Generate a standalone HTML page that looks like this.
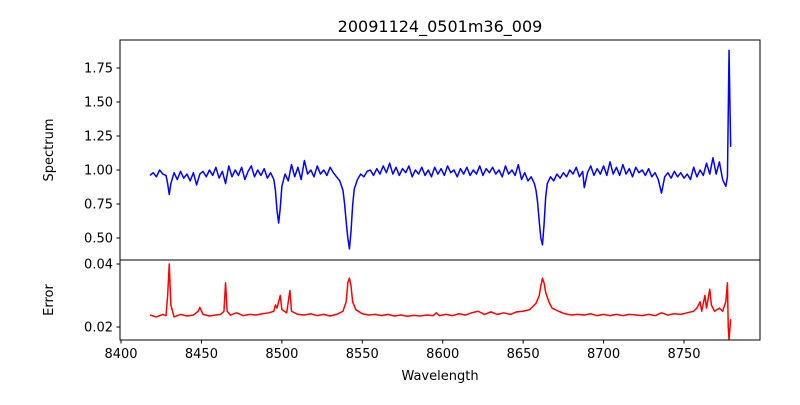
<!DOCTYPE html>
<html><head><meta charset="utf-8"><style>
html,body{margin:0;padding:0;background:#fff;}
svg text{font-family:"DejaVu Sans","Liberation Sans",sans-serif;}
</style></head><body>
<svg id="chart" width="800" height="400" xmlns="http://www.w3.org/2000/svg"></svg>
<script>
const specWave=[8418,8420,8422,8424,8426,8428,8429,8430,8431,8433,8435,8437,8439,8441,8443,8445,8447,8449,8451,8453,8455,8457,8459,8461,8463,8465,8467,8469,8471,8473,8475,8477,8479,8481,8483,8485,8487,8489,8491,8493,8495,8496,8497,8498,8499,8500,8502,8504,8506,8508,8510,8512,8514,8516,8518,8520,8522,8524,8526,8528,8530,8532,8534,8536,8538,8539,8540,8541,8542,8543,8544,8545,8547,8549,8551,8553,8555,8557,8559,8561,8563,8565,8567,8569,8571,8573,8575,8577,8579,8581,8583,8585,8587,8589,8591,8593,8595,8597,8599,8601,8603,8605,8607,8609,8611,8613,8615,8617,8619,8621,8623,8625,8627,8629,8631,8633,8635,8637,8639,8641,8643,8645,8647,8649,8651,8653,8655,8657,8658,8659,8660,8661,8662,8663,8664,8665,8667,8669,8671,8673,8675,8677,8679,8681,8683,8685,8687,8688,8690,8692,8694,8696,8698,8700,8702,8704,8706,8708,8710,8712,8714,8716,8718,8720,8722,8724,8726,8728,8730,8732,8734,8736,8738,8740,8742,8744,8746,8748,8750,8752,8754,8756,8758,8760,8762,8764,8766,8768,8770,8772,8774,8776,8777,8778,8779];
const specFlux=[0.96,0.98,0.95,1.00,0.97,0.96,0.90,0.82,0.90,0.98,0.93,0.99,0.94,0.97,0.92,0.98,0.89,0.97,0.99,0.95,1.00,0.96,1.02,0.94,0.99,0.90,1.03,0.95,1.00,0.96,1.02,0.93,0.99,1.03,0.95,1.00,0.96,1.01,0.94,0.98,0.93,0.85,0.70,0.61,0.72,0.88,0.97,0.92,1.04,0.95,1.02,0.93,1.07,0.97,1.00,0.95,1.03,0.97,1.00,0.96,1.02,0.98,0.95,0.92,0.85,0.75,0.62,0.50,0.42,0.55,0.74,0.86,0.93,0.97,0.95,0.99,1.00,0.96,1.01,0.97,1.03,0.98,1.05,0.97,1.02,0.96,1.01,0.98,1.03,0.95,1.00,0.97,1.02,0.96,1.00,0.95,1.02,0.97,1.01,0.96,1.03,0.98,1.00,0.95,1.01,0.97,1.02,0.96,1.00,0.97,1.03,0.96,1.01,0.98,1.02,0.97,1.00,0.95,1.03,0.97,1.00,0.96,1.04,0.93,0.98,0.92,0.95,0.90,0.85,0.76,0.62,0.50,0.45,0.60,0.80,0.90,0.95,0.92,0.97,0.94,0.98,0.95,1.00,0.97,1.02,0.95,0.99,0.87,0.98,1.03,0.96,1.01,0.97,1.03,0.96,1.06,0.97,1.02,0.96,1.04,0.97,1.01,0.95,1.02,0.98,1.00,0.96,1.01,0.95,0.98,0.93,0.83,0.95,0.98,0.94,0.99,0.95,0.98,0.94,0.97,0.93,1.02,0.95,1.00,0.96,1.05,0.97,1.09,0.97,1.06,0.93,0.88,0.95,1.88,1.17];
const errWave=[8418,8422,8426,8428,8429,8430,8431,8433,8437,8441,8445,8448,8449,8451,8455,8459,8462,8464,8465,8466,8468,8472,8476,8480,8484,8488,8492,8495,8496,8497,8499,8500,8503,8505,8506,8510,8514,8518,8522,8526,8530,8534,8538,8540,8541,8542,8543,8544,8546,8550,8554,8558,8562,8566,8570,8574,8578,8582,8586,8590,8594,8596,8598,8602,8606,8610,8614,8618,8622,8626,8630,8634,8638,8642,8646,8650,8654,8656,8658,8660,8661,8662,8663,8664,8666,8668,8672,8676,8680,8684,8688,8692,8696,8700,8704,8708,8712,8716,8720,8724,8728,8732,8736,8740,8744,8748,8752,8756,8758,8760,8761,8763,8764,8766,8767,8769,8772,8774,8776,8777,8777.5,8778,8779];
const errVal=[0.0238,0.0232,0.0240,0.0236,0.030,0.0400,0.027,0.0232,0.0240,0.0235,0.0238,0.0250,0.0262,0.0240,0.0235,0.0238,0.0240,0.0250,0.0340,0.0250,0.0238,0.0245,0.0236,0.0240,0.0238,0.0242,0.0245,0.0250,0.0270,0.0260,0.0300,0.0255,0.0245,0.0316,0.0250,0.0240,0.0238,0.0242,0.0236,0.0240,0.0235,0.0240,0.0250,0.0280,0.0340,0.0355,0.0330,0.0280,0.0255,0.0242,0.0238,0.0240,0.0236,0.0240,0.0235,0.0238,0.0234,0.0237,0.0235,0.0238,0.0236,0.0245,0.0236,0.0240,0.0236,0.0242,0.0238,0.0245,0.0250,0.0240,0.0248,0.0240,0.0245,0.0240,0.0248,0.0250,0.0255,0.0265,0.0275,0.0300,0.0330,0.0355,0.0340,0.0310,0.0280,0.0260,0.0250,0.0242,0.0238,0.0240,0.0238,0.0242,0.0236,0.0240,0.0236,0.0240,0.0236,0.0240,0.0238,0.0236,0.0240,0.0236,0.0245,0.0238,0.0242,0.0240,0.0245,0.0250,0.0260,0.0280,0.0250,0.0300,0.0260,0.0320,0.0270,0.0250,0.0260,0.0250,0.0280,0.0340,0.0200,0.0160,0.0225];
const xTicks=[8400,8450,8500,8550,8600,8650,8700,8750];
const specTicks=[0.50,0.75,1.00,1.25,1.50,1.75];
const errTicks=[0.02,0.04];

const svg=document.getElementById('chart');
const NS='http://www.w3.org/2000/svg';
const L=120,R=760,T1=40,B1=260,T2=260,B2=340;
const x=w=>121+(w-8400)*1.6086;
const y1=v=>170-(v-1)*136;
const y2=v=>327-(v-0.02)*3150;
function mk(tag,attrs,parent){const e=document.createElementNS(NS,tag);for(const k in attrs)e.setAttribute(k,attrs[k]);(parent||svg).appendChild(e);return e;}

function line(ws,vs,yf,color,name){
  const d=ws.map((w,i)=>(i?'L':'M')+x(w).toFixed(2)+','+yf(vs[i]).toFixed(2)).join('');
  const p=mk('path',{d:d,fill:'none',stroke:color,'stroke-width':1.5,'stroke-linejoin':'round'});
  
  
}
line(specWave,specFlux,y1,'#0000ff','spectrum-line');
line(errWave,errVal,y2,'#ff0000','error-line');

const f1=mk('rect',{x:L,y:T1,width:R-L,height:B1-T1,fill:'none',stroke:'#000','stroke-width':1});


const f2=mk('rect',{x:L,y:T2,width:R-L,height:B2-T2,fill:'none',stroke:'#000','stroke-width':1});



function txt(s,attrs,name){const t=mk('text',attrs);t.textContent=s;return t;}

specTicks.forEach(v=>{const yy=y1(v);
  const l=mk('line',{x1:L-3.5,x2:L,y1:yy,y2:yy,stroke:'#000'});
  
  
  txt(v.toFixed(2),{x:L-7,y:yy+4.5,'font-size':13,'text-anchor':'end'},'spectrum-y-tick-label');});
errTicks.forEach(v=>{const yy=y2(v);
  const l=mk('line',{x1:L-3.5,x2:L,y1:yy,y2:yy,stroke:'#000'});
  
  
  txt(v.toFixed(2),{x:L-7,y:yy+4.5,'font-size':13,'text-anchor':'end'},'error-y-tick-label');});
xTicks.forEach(v=>{const xx=x(v);
  const l=mk('line',{x1:xx,x2:xx,y1:B2,y2:B2+3.5,stroke:'#000'});
  
  
  txt(String(v),{x:xx,y:B2+18,'font-size':13,'text-anchor':'middle'},'x-tick-label');});

txt('20091124_0501m36_009',{x:440,y:32,'font-size':16,'text-anchor':'middle'},'chart-title');
txt('Wavelength',{x:440,y:380,'font-size':13,'text-anchor':'middle'},'x-axis-title');
txt('Spectrum',{x:53,y:150,'font-size':13,'text-anchor':'middle',transform:'rotate(-90 53 150)'},'spectrum-y-axis-title');
txt('Error',{x:53,y:300,'font-size':13,'text-anchor':'middle',transform:'rotate(-90 53 300)'},'error-y-axis-title');
</script>
</body></html>
